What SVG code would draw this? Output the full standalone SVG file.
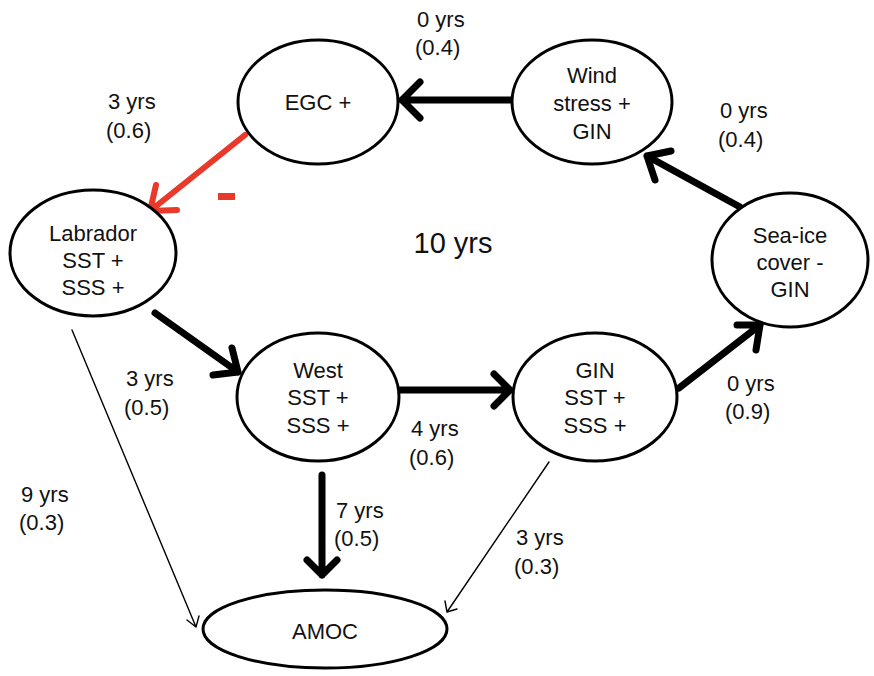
<svg xmlns="http://www.w3.org/2000/svg" width="874" height="676" viewBox="0 0 874 676">
<style>
.node{fill:#fff;stroke:#000;stroke-width:3}
text{font-family:"Liberation Sans",Arial,sans-serif;font-size:22px;fill:#111}
.c{text-anchor:middle}
.thick{fill:none;stroke:#000;stroke-width:7;stroke-linecap:round;stroke-linejoin:round}
.thin{fill:none;stroke:#000;stroke-width:1.4;stroke-linecap:round;stroke-linejoin:round}
.red{fill:none;stroke:#e8392b;stroke-width:6;stroke-linecap:round;stroke-linejoin:round}
</style>
<rect width="874" height="676" fill="#fff"/>
<g id="connectors">
<path class="thick" d="M512,100 L402,100 M420,82 L402,100 L420,118"/>
<path class="red" d="M245,135 L150,211 M156,185 L150,211 L177,210"/>
<path class="thick" d="M155,313 L238,372 M232,348 L238,372 L213,375"/>
<path class="thick" d="M400,390 L510,390 M494,374 L510,390 L494,406"/>
<path class="thick" d="M679,388 L760,325 M737,325 L760,325 L756,350"/>
<path class="thick" d="M740,207 L647,156 M671,151 L647,156 L655,180"/>
<path class="thick" d="M322,475 L322,575 M307,560 L322,575 L337,560"/>
<path class="thin" d="M72,330 L196,627 M187,620 L196,627 L199,616"/>
<path class="thin" d="M549,462 L447,612 M445,601 L447,612 L457,609"/>
<rect x="218" y="193" width="17" height="7" fill="#e8392b"/>
</g>
<g id="egc"><ellipse class="node" cx="318" cy="102" rx="80" ry="62"/><text class="c" x="318" y="110">EGC +</text></g>
<g id="wind"><ellipse class="node" cx="592" cy="102" rx="80" ry="62"/><text class="c" x="592" y="83">Wind</text><text class="c" x="592" y="111">stress +</text><text class="c" x="592" y="139">GIN</text></g>
<g id="labrador"><ellipse class="node" cx="93" cy="253" rx="83" ry="63"/><text class="c" x="93" y="241">Labrador</text><text class="c" x="93" y="268">SST +</text><text class="c" x="93" y="295">SSS +</text></g>
<g id="seaice"><ellipse class="node" cx="790" cy="260" rx="78" ry="67"/><text class="c" x="790" y="243">Sea-ice</text><text class="c" x="790" y="270">cover -</text><text class="c" x="790" y="297">GIN</text></g>
<g id="west"><ellipse class="node" cx="318" cy="397" rx="81" ry="64"/><text class="c" x="318" y="378">West</text><text class="c" x="318" y="405">SST +</text><text class="c" x="318" y="433">SSS +</text></g>
<g id="gin"><ellipse class="node" cx="595" cy="397" rx="82" ry="64"/><text class="c" x="595" y="378">GIN</text><text class="c" x="595" y="405">SST +</text><text class="c" x="595" y="433">SSS +</text></g>
<g id="amoc"><ellipse class="node" cx="325" cy="629" rx="122" ry="39"/><text class="c" x="325" y="639">AMOC</text></g>
<g id="labels">
<text x="417" y="27">0 yrs</text><text x="415" y="55">(0.4)</text>
<text x="108" y="109">3 yrs</text><text x="106" y="138">(0.6)</text>
<text x="720" y="118">0 yrs</text><text x="718" y="147">(0.4)</text>
<text x="126" y="386">3 yrs</text><text x="124" y="415">(0.5)</text>
<text x="411" y="436">4 yrs</text><text x="409" y="465">(0.6)</text>
<text x="727" y="391">0 yrs</text><text x="725" y="419">(0.9)</text>
<text x="21" y="502">9 yrs</text><text x="19" y="530">(0.3)</text>
<text x="336" y="518">7 yrs</text><text x="334" y="546">(0.5)</text>
<text x="516" y="545">3 yrs</text><text x="514" y="574">(0.3)</text>
<text class="c" x="453" y="253" style="font-size:29px">10 yrs</text>
</g>
</svg>
